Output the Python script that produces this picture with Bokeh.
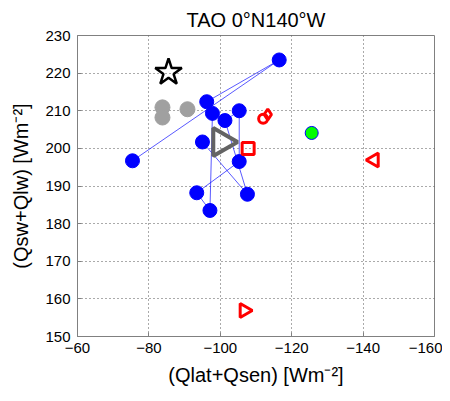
import math
from bokeh.plotting import figure
from bokeh.models import Range1d, FixedTicker
from bokeh.embed import file_html
from bokeh.resources import INLINE

# ---- data ----
blue_x = [-75.4, -116.5, -96.2, -97.8, -97.1, -93.4, -105.3, -105.3, -101.3, -107.6, -95.0]
blue_y = [196.7, 223.5, 212.4, 209.3, 183.5, 188.2, 196.5, 210.0, 207.4, 187.8, 201.7]

gray_x = [-83.8, -83.8, -90.8]
gray_y = [210.9, 208.2, 210.4]

star_x = [-85.5]
star_y = [220.2]

big_tri_x = [-100.3]
big_tri_y = [201.7]

red_sq_x = [-107.8]
red_sq_y = [200.0]

red_circ_x = [-112.0]
red_circ_y = [207.9]

red_diam_x = [-113.3]
red_diam_y = [209.0]

green_x = [-125.6]
green_y = [204.1]

red_tri_left_x = [-143.1]
red_tri_left_y = [196.9]

red_tri_right_x = [-106.7]
red_tri_right_y = [156.9]

x_ticks = [-60, -80, -100, -120, -140, -160]
y_ticks = [150, 160, 170, 180, 190, 200, 210, 220, 230]

FONT = "Liberation Sans"

p = figure(frame_width=357, frame_height=301,
           min_border_left=77, min_border_right=8,
           min_border_top=35, min_border_bottom=57,
           x_range=Range1d(-60, -160), y_range=Range1d(150, 230),
           output_backend="svg", toolbar_location=None,
           title="TAO 0°N140°W")

p.title.align = "center"
p.title.text_font = FONT
p.title.text_font_size = "20px"
p.title.text_font_style = "normal"
p.title.text_color = "black"
p.title.offset = 0

p.outline_line_color = "#808080"
p.outline_line_width = 1
p.background_fill_color = "white"
p.border_fill_color = "white"

for ax in (p.xaxis[0], p.yaxis[0]):
    ax.axis_line_color = "#808080"
    ax.major_tick_line_color = "#808080"
    ax.major_tick_in = 4
    ax.major_tick_out = 0
    ax.minor_tick_line_color = None
    ax.major_label_text_font = FONT
    ax.major_label_text_font_size = "15px"
    ax.major_label_text_color = "black"
    ax.axis_label_text_font = FONT
    ax.axis_label_text_font_size = "20px"
    ax.axis_label_text_font_style = "normal"
    ax.axis_label_text_color = "black"

p.xaxis.ticker = FixedTicker(ticks=x_ticks)
p.yaxis.ticker = FixedTicker(ticks=y_ticks)
p.xaxis.axis_label = "(Qlat+Qsen) [Wm⁻²]"
p.yaxis.axis_label = "(Qsw+Qlw) [Wm⁻²]"
p.xaxis.major_label_standoff = 6
p.yaxis.major_label_standoff = 7
p.xaxis.axis_label_standoff = 8
p.yaxis.axis_label_standoff = 10

p.grid.grid_line_color = "#555555"
p.grid.grid_line_dash = "1 3"
p.grid.grid_line_width = 1
p.xgrid.ticker = FixedTicker(ticks=x_ticks[1:-1])
p.ygrid.ticker = FixedTicker(ticks=y_ticks[1:-1])

# blue connected series
p.line(blue_x, blue_y, line_color="blue", line_alpha=0.65, line_width=1)
p.scatter(blue_x, blue_y, marker="circle", size=14, fill_color="blue", line_color="blue")

p.scatter(gray_x, gray_y, marker="circle", size=15, fill_color="#a0a0a0", line_color="#a0a0a0")

p.scatter(star_x, star_y, marker="star", size=28, fill_color=None, line_color="black", line_width=2.5)

p.scatter(big_tri_x, big_tri_y, marker="triangle", size=28, angle=-math.pi / 2,
          fill_color=None, line_color="#646464", line_width=4)

p.scatter(red_sq_x, red_sq_y, marker="square", size=12, fill_color=None, line_color="red", line_width=3)
p.scatter(red_circ_x, red_circ_y, marker="circle", size=9, fill_color=None, line_color="red", line_width=3)
p.scatter(red_diam_x, red_diam_y, marker="diamond", size=11, fill_color=None, line_color="red", line_width=3)

p.scatter(green_x, green_y, marker="circle", size=13, fill_color="#00ff00", line_color="blue", line_width=1)

p.scatter(red_tri_left_x, red_tri_left_y, marker="triangle", size=14, angle=math.pi / 2,
          fill_color=None, line_color="red", line_width=3)
p.scatter(red_tri_right_x, red_tri_right_y, marker="triangle", size=14, angle=-math.pi / 2,
          fill_color=None, line_color="red", line_width=3)

open("out.html", "w").write(file_html(p, INLINE))
